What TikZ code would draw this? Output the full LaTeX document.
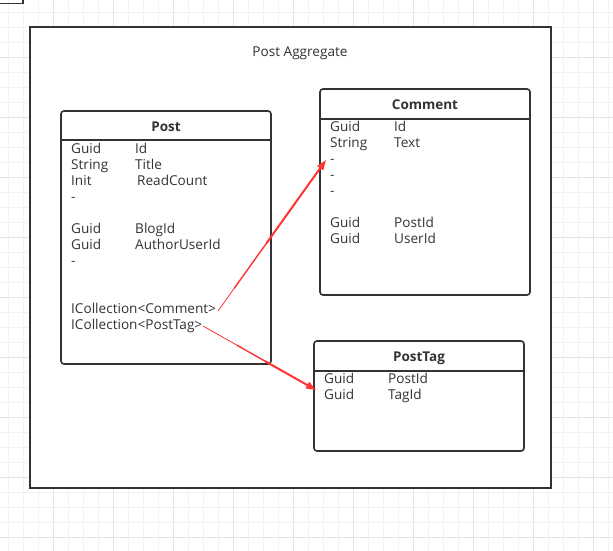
\documentclass[tikz,border=0pt]{standalone}
\usepackage{fontspec}
\setmainfont{Open Sans}
\usetikzlibrary{arrows.meta,calc}
\definecolor{ink}{HTML}{333333}
\definecolor{gridminor}{HTML}{F2F2F2}
\definecolor{gridmajor}{HTML}{E4E4E4}
\definecolor{arrowred}{HTML}{FF3333}
\begin{document}
\begin{tikzpicture}[x=1pt,y=-1pt,
  umlbox/.style={draw=ink, line width=1.6pt, rounded corners=3pt, fill=white, inner sep=0pt},
  frame/.style={draw=ink, line width=1.6pt, fill=white, inner sep=0pt},
  ttl/.style={font=\fontsize{13.5}{15}\selectfont\bfseries, text=ink, inner sep=0pt},
  fld/.style={font=\fontsize{13.6}{15}\selectfont, text=ink, anchor=base west, inner sep=0pt},
  link/.style={draw=arrowred, line width=2pt, -{Triangle[length=10pt,width=7pt]}}]
\useasboundingbox (0,0) rectangle (613,551);
\fill[white] (0,0) rectangle (613,551);
% grid
\foreach \x in {8,23,...,608} \draw[gridminor, line width=0.8pt] (\x,0) -- (\x,551);
\foreach \y in {12,27,...,551} \draw[gridminor, line width=0.8pt] (0,\y) -- (613,\y);
\foreach \x in {53,113,...,608} \draw[gridmajor, line width=0.8pt] (\x,0) -- (\x,551);
\foreach \y in {57,117,...,551} \draw[gridmajor, line width=0.8pt] (0,\y) -- (613,\y);
% truncated shape top-left
\draw[ink, line width=1.6pt] (0,3.5) -- (23,3.5) -- (23,-2);
% outer frame
\node[frame, minimum width=521pt, minimum height=461pt] (agg) at (290.5,257.5) {};
\node[font=\fontsize{13.6}{15}\selectfont, text=ink, inner sep=0pt, anchor=base] (aggtitle) at (300,56.5) {Post Aggregate};
% Post
\node[umlbox, minimum width=210pt, minimum height=253pt] (post) at (166,237.5) {};
\draw[ink, line width=1.6pt] (61,140) -- (271,140);
\node[ttl, anchor=base] (posttitle) at (166,131) {Post};
\node[fld] (p1a) at (71,153.5) {Guid};
\node[fld] (p1b) at (135,153.5) {Id};
\node[fld] (p2a) at (71,169.5) {String};
\node[fld] (p2b) at (135,169.5) {Title};
\node[fld] (p3a) at (71,185.5) {Init};
\node[fld] (p3b) at (137,185.5) {ReadCount};
\node[fld] (p4a) at (71,201.5) {-};
\node[fld] (p5a) at (71,233.5) {Guid};
\node[fld] (p5b) at (135,233.5) {BlogId};
\node[fld] (p6a) at (71,249.5) {Guid};
\node[fld] (p6b) at (135,249.5) {AuthorUserId};
\node[fld] (p7a) at (71,265.5) {-};
\node[fld] (p8a) at (71,313.5) {ICollection<Comment>};
\node[fld] (p9a) at (71,329.5) {ICollection<PostTag>};
% Comment
\node[umlbox, minimum width=210pt, minimum height=206pt] (comment) at (425,192) {};
\draw[ink, line width=1.6pt] (320,119) -- (530,119);
\node[ttl, anchor=base] (commenttitle) at (425,109) {Comment};
\node[fld] (c1a) at (330,131.5) {Guid};
\node[fld] (c1b) at (394,131.5) {Id};
\node[fld] (c2a) at (330,147.5) {String};
\node[fld] (c2b) at (394,147.5) {Text};
\node[fld] (c3a) at (330,163.5) {-};
\node[fld] (c4a) at (330,179.5) {-};
\node[fld] (c5a) at (330,195.5) {-};
\node[fld] (c6a) at (330,227.5) {Guid};
\node[fld] (c6b) at (394,227.5) {PostId};
\node[fld] (c7a) at (330,243.5) {Guid};
\node[fld] (c7b) at (394,243.5) {UserId};
% PostTag
\node[umlbox, minimum width=210pt, minimum height=110pt] (posttag) at (419,396) {};
\draw[ink, line width=1.6pt] (314,371) -- (524,371);
\node[ttl, anchor=base] (posttagtitle) at (419,361) {PostTag};
\node[fld] (t1a) at (324,383.5) {Guid};
\node[fld] (t1b) at (388,383.5) {PostId};
\node[fld] (t2a) at (324,399.5) {Guid};
\node[fld] (t2b) at (388,399.5) {TagId};
% connectors
\coordinate (s1) at (218,311);
\coordinate (e1) at (326,160);
\coordinate (s2) at (203,326);
\coordinate (e2) at (316,390);
\draw[arrowred, line width=0.8pt] (s1) -- ($(s1)!0.2!(e1)$);
\draw[arrowred, line width=1.4pt] ($(s1)!0.15!(e1)$) -- ($(s1)!0.5!(e1)$);
\draw[link] ($(s1)!0.45!(e1)$) -- (e1);
\draw[arrowred, line width=0.8pt] (s2) -- ($(s2)!0.35!(e2)$);
\draw[arrowred, line width=1.4pt] ($(s2)!0.3!(e2)$) -- ($(s2)!0.6!(e2)$);
\draw[link] ($(s2)!0.55!(e2)$) -- (e2);
\end{tikzpicture}
\end{document}
